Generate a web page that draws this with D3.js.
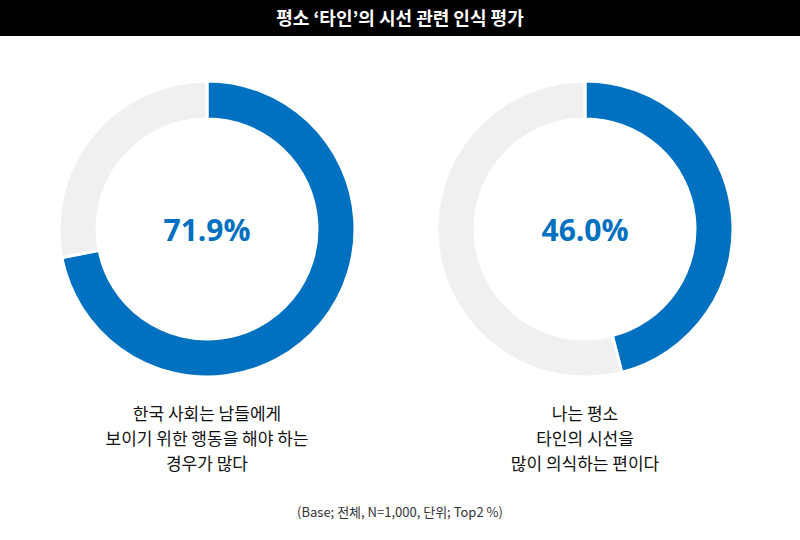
<!DOCTYPE html>
<html><head><meta charset="utf-8">
<script src="https://cdn.jsdelivr.net/npm/d3@7"></script>
<style>body{margin:0;background:#fff;font-family:"Noto Sans CJK KR","Noto Sans",sans-serif;}</style>
</head><body><div id="chart"></div>
<script>
const title = "평소 ‘타인’의 시선 관련 인식 평가";
const values = [71.9, 46.0];
const labels = [
  ["한국 사회는 남들에게", "보이기 위한 행동을 해야 하는", "경우가 많다"],
  ["나는 평소", "타인의 시선을", "많이 의식하는 편이다"]
];
const note = "(Base; 전체, N=1,000, 단위; Top2 %)";

const W = 800, H = 540;
const svg = d3.select("#chart").append("svg").attr("width", W).attr("height", H);

// title bar
svg.append("rect").attr("width", W).attr("height", 36).attr("fill", "#000");
svg.append("text").attr("x", W / 2).attr("y", 25).attr("text-anchor", "middle")
  .attr("fill", "#fff").style("font-size", "18px").style("font-weight", "bold").text(title);

const cx = d3.scalePoint().domain(d3.range(values.length)).range([207, 585]);
const arc = d3.arc().innerRadius(110).outerRadius(148);
const pie = d3.pie().sort(null).value(d => d);

values.forEach((v, i) => {
  const g = svg.append("g").attr("transform", `translate(${cx(i)},229)`);
  g.selectAll("path").data(pie([v, 100 - v])).join("path")
    .attr("d", arc)
    .attr("fill", (d, j) => j === 0 ? "#0070C0" : "#F0F0F0")
    .attr("stroke", "#fff").attr("stroke-width", 3);
  g.append("text").attr("text-anchor", "middle").attr("y", 12)
    .attr("fill", "#0070C0").style("font-size", "30px").style("font-weight", "bold")
    .style("font-family", "'Open Sans',sans-serif")
    .text(v.toFixed(1) + "%");
  labels[i].forEach((t, k) => {
    svg.append("text").attr("x", cx(i)).attr("y", 420 + k * 25).attr("text-anchor", "middle")
      .attr("fill", "#111").style("font-size", "17px").text(t);
  });
});

svg.append("text").attr("x", W / 2).attr("y", 517).attr("text-anchor", "middle")
  .attr("fill", "#333").style("font-size", "13px").text(note);
</script></body></html>
